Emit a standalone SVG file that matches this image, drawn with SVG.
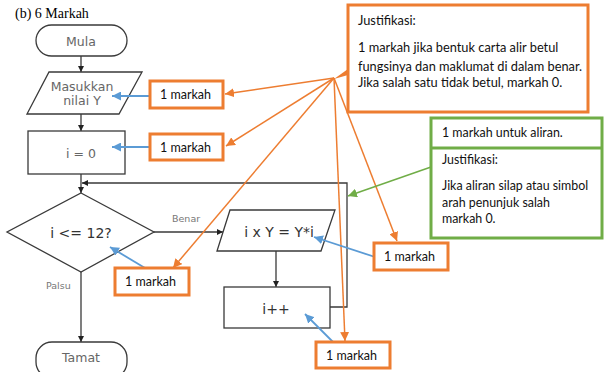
<svg xmlns="http://www.w3.org/2000/svg" width="609" height="372" viewBox="0 0 609 372">
<defs>
<style>
.fc{fill:#fff;stroke:#3a3a3a;stroke-width:1.3}
.ln{fill:none;stroke:#3a3a3a;stroke-width:1.3}
.gt{font-family:"DejaVu Sans",sans-serif;font-size:12.5px;fill:#666;text-anchor:middle}
.dt{font-family:"DejaVu Sans",sans-serif;font-size:14px;fill:#333;text-anchor:middle}
.sm{font-family:"DejaVu Sans",sans-serif;font-size:9.5px;fill:#777}
.ob{fill:#fff;stroke:#ED7D31;stroke-width:3}
.gb{fill:#fff;stroke:#70AD47;stroke-width:3}
.mt{font-family:Lato,"Liberation Sans",sans-serif;font-size:12.5px;fill:#111}
.bt{font-family:Lato,"Liberation Sans",sans-serif;font-size:12.8px;fill:#111}
.gtx{font-family:Lato,"Liberation Sans",sans-serif;font-size:12.4px;fill:#111}
.oa{fill:none;stroke:#ED7D31;stroke-width:1.5;marker-end:url(#mo)}
.ba{fill:none;stroke:#5B9BD5;stroke-width:1.8;marker-end:url(#mb)}
.ga{fill:none;stroke:#70AD47;stroke-width:1.5;marker-end:url(#mg)}
</style>
<marker id="mk" viewBox="0 0 10 10" refX="10" refY="5" markerWidth="6" markerHeight="6" markerUnits="userSpaceOnUse" orient="auto"><path d="M0,0L10,5L0,10z" fill="#222"/></marker>
<marker id="mo" viewBox="0 0 10 10" refX="10" refY="5" markerWidth="9" markerHeight="9" markerUnits="userSpaceOnUse" orient="auto"><path d="M0,0L10,5L0,10z" fill="#ED7D31"/></marker>
<marker id="mb" viewBox="0 0 10 10" refX="10" refY="5" markerWidth="9" markerHeight="9" markerUnits="userSpaceOnUse" orient="auto"><path d="M0,0L10,5L0,10z" fill="#5B9BD5"/></marker>
<marker id="mg" viewBox="0 0 10 10" refX="10" refY="5" markerWidth="9" markerHeight="9" markerUnits="userSpaceOnUse" orient="auto"><path d="M0,0L10,5L0,10z" fill="#70AD47"/></marker>
</defs>
<rect width="609" height="372" fill="#fff"/>
<text x="15" y="18" font-family="'Liberation Serif',serif" font-size="14" fill="#000">(b) 6 Markah</text>

<g id="connectors">
<line class="ln" x1="81" y1="56" x2="81" y2="72" marker-end="url(#mk)"/>
<line class="ln" x1="81" y1="114" x2="81" y2="131" marker-end="url(#mk)"/>
<line class="ln" x1="81" y1="174" x2="81" y2="193" marker-end="url(#mk)"/>
<polyline class="ln" points="330,307 347,307 347,183 82,183" marker-end="url(#mk)"/>
<line class="ln" x1="154" y1="232" x2="223" y2="232" marker-end="url(#mk)"/>
<line class="ln" x1="276" y1="251" x2="276" y2="287" marker-end="url(#mk)"/>
<line class="ln" x1="81" y1="272" x2="81" y2="342" marker-end="url(#mk)"/>
<text class="sm" x="172" y="222">Benar</text>
<text class="sm" x="46" y="289">Palsu</text>
</g>

<g id="mula"><rect class="fc" x="36" y="25" width="91" height="31" rx="15.5"/><text class="gt" x="81" y="45.5">Mula</text></g>
<g id="input"><polygon class="fc" points="49,72 142,72 119,114 27,114"/><text class="gt" x="82" y="91">Masukkan</text><text class="gt" x="82" y="105">nilai Y</text></g>
<g id="init"><rect class="fc" x="28" y="131" width="97" height="43"/><text class="gt" x="81" y="158">i = 0</text></g>
<g id="decision"><polygon class="fc" points="81,193 154,232 81,272 7,232"/><text class="dt" x="81" y="238" font-size="16">i &lt;= 12?</text></g>
<g id="calc"><polygon class="fc" points="230,210 335,210 321,251 217,251"/><text class="dt" x="279" y="237">i x Y = Y*i</text></g>
<g id="incr"><rect class="fc" x="224" y="287" width="106" height="41"/><text class="dt" x="276" y="314">i++</text></g>
<g id="tamat"><rect class="fc" x="36" y="342" width="91" height="36" rx="16"/><text class="gt" x="81" y="362">Tamat</text></g>

<g id="annotations">
<line class="oa" x1="334" y1="78" x2="225" y2="94"/>
<line class="oa" x1="334" y1="78" x2="226" y2="146"/>
<line class="oa" x1="334" y1="78" x2="173" y2="268"/>
<line class="oa" x1="334" y1="78" x2="345" y2="341"/>
<line class="oa" x1="334" y1="78" x2="397" y2="241"/>
<polygon points="348,69 348,75 334,79" fill="#ED7D31"/>
<line class="ba" x1="150" y1="96" x2="112" y2="96"/>
<line class="ba" x1="150" y1="147" x2="112" y2="147"/>
<line class="ba" x1="145" y1="268" x2="110" y2="247"/>
<line class="ba" x1="375" y1="257" x2="314" y2="237"/>
<line class="ba" x1="333" y1="342" x2="305" y2="314"/>
<line class="ga" x1="431" y1="167" x2="348" y2="196"/>
</g>

<g id="m1"><rect class="ob" x="150" y="81" width="73" height="27"/><text class="mt" x="160" y="99">1 markah</text></g>
<g id="m2"><rect class="ob" x="150" y="134" width="73" height="26"/><text class="mt" x="160" y="151.5">1 markah</text></g>
<g id="m3"><rect class="ob" x="115" y="268" width="74" height="27"/><text class="mt" x="125" y="286">1 markah</text></g>
<g id="m4"><rect class="ob" x="374" y="243" width="74" height="27"/><text class="mt" x="384" y="261">1 markah</text></g>
<g id="m5"><rect class="ob" x="316" y="342" width="74" height="26"/><text class="mt" x="326" y="360">1 markah</text></g>

<g id="justifikasi1"><rect class="ob" x="348" y="5" width="240" height="107"/>
<text class="bt" x="358" y="25">Justifikasi:</text>
<text class="bt" x="358" y="52">1 markah jika bentuk carta alir betul</text>
<text class="bt" x="358" y="71">fungsinya dan maklumat di dalam benar.</text>
<text class="bt" x="358" y="87">Jika salah satu tidak betul, markah 0.</text>
</g>
<g id="aliran"><rect class="gb" x="431" y="118" width="171" height="120"/>
<line x1="431" y1="148" x2="602" y2="148" stroke="#70AD47" stroke-width="3"/>
<text class="gtx" x="442" y="137">1 markah untuk aliran.</text>
<text class="gtx" x="442" y="164">Justifikasi:</text>
<text class="gtx" x="442" y="190">Jika aliran silap atau simbol</text>
<text class="gtx" x="442" y="207">arah penunjuk salah</text>
<text class="gtx" x="442" y="223">markah 0.</text>
</g>
</svg>
